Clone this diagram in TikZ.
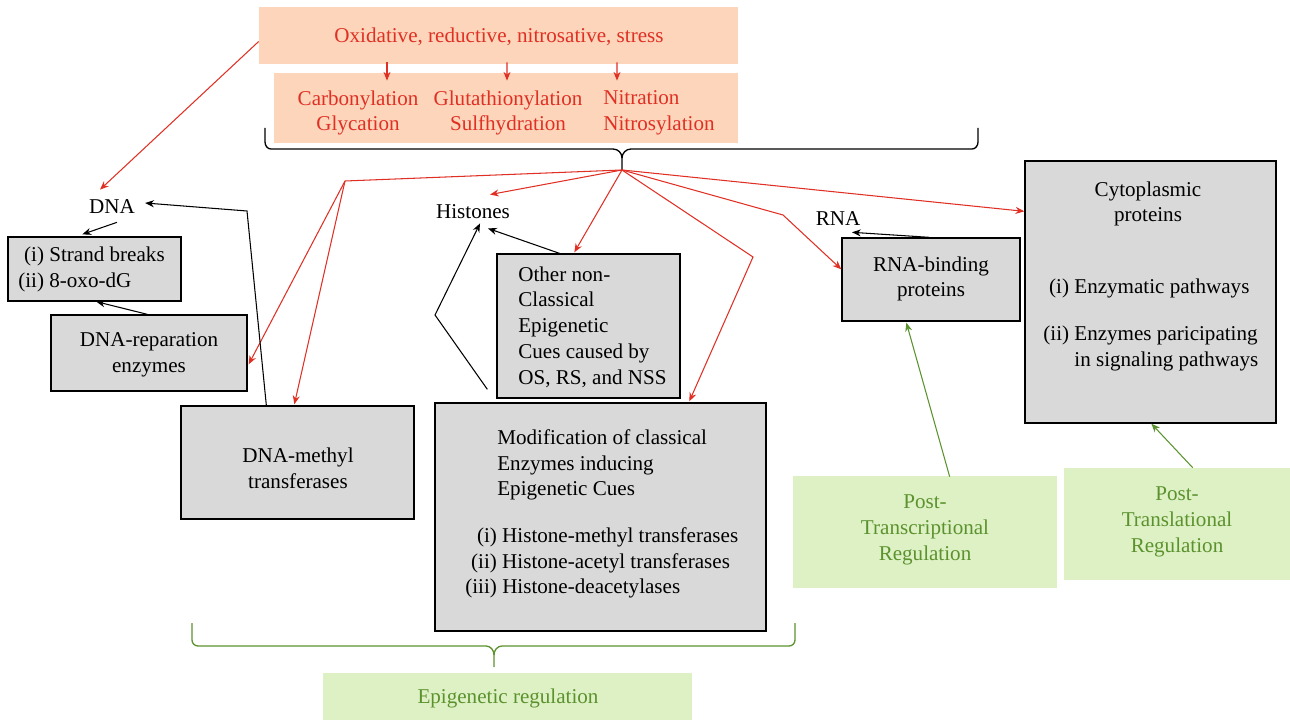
\documentclass[tikz,border=0pt]{standalone}
\usepackage{fontspec}
\setmainfont{Liberation Serif}
\usetikzlibrary{arrows.meta,calc,fit}
\definecolor{peach}{RGB}{252,213,186}
\definecolor{redtext}{RGB}{224,48,36}
\definecolor{boxgray}{RGB}{217,217,217}
\definecolor{greenfill}{RGB}{221,241,196}
\definecolor{greentext}{RGB}{92,146,46}
\begin{document}
\begin{tikzpicture}[x=0.02cm,y=-0.02cm,>={Stealth[length=5pt,width=4pt]},
		font=\fontsize{12}{14.7}\selectfont,
		gray box/.style={draw=black,line width=0.75pt,fill=boxgray,inner sep=0pt},
		green box/.style={fill=greenfill,inner sep=0pt},
		red box/.style={fill=peach,inner sep=0pt},
		word/.style={inner sep=0pt},
		green word/.style={inner sep=0pt,text=greentext,align=center},
		red word/.style={inner sep=0pt,text=redtext},
		red arrow/.style={->,draw=redtext,line width=0.6pt},
		black arrow/.style={->,draw=black,line width=0.6pt},
		green arrow/.style={->,draw=greentext,line width=0.6pt}]
		
		\useasboundingbox (0,0) rectangle (1290,722);
		
		% stress and its modifications
		\node[red box,fit={(259,7) (738,64)}](stress){};
		\node[red word](stresstxt) at (499,37){Oxidative, reductive, nitrosative, stress};
		\node[red box,fit={(274,73) (738,143)}](mods){};
		\node[red word,align=center](carb) at (358,113){Carbonylation\\Glycation};
		\node[red word,align=center](glut) at (508,113){Glutathionylation\\Sulfhydration};
		\node[red word,align=left,anchor=west](nitr) at (603,113){Nitration\\Nitrosylation};
		
		% targets
		\node[word](dna) at (112,207){DNA};
		\node[word](hist) at (473,212){Histones};
		\node[word](rna) at (838,219){RNA};
		
		\node[gray box,fit={(8,237) (181,301)}](strand){};
		\node[word,anchor=west](strandtxt) at (18,269){\begin{tabular}{@{}r@{ }l@{}}(i)&Strand breaks\\(ii)&8-oxo-dG\end{tabular}};
		\node[gray box,fit={(51,315) (247,391)}](repar){};
		\node[word,align=center](repartxt) at (149,355){DNA-reparation\\enzymes};
		\node[gray box,fit={(181,406) (414,519)}](methyl){};
		\node[word,align=center](methyltxt) at (298,468){DNA-methyl\\transferases};
		
		\node[gray box,fit={(497,254) (680,398)}](other){};
		\node[word,anchor=west,align=left](othertxt) at (518,327){Other non-\\Classical\\Epigenetic\\Cues caused by\\OS, RS, and NSS};
		\node[gray box,fit={(435,403) (766,631)}](modif){};
		\node[word,anchor=west,align=left](modtxt) at (497,465){Modification of classical\\Enzymes inducing\\Epigenetic Cues};
		\node[word,anchor=west](modlist) at (465,563){\begin{tabular}{@{}r@{ }l@{}}(i)&Histone-methyl transferases\\(ii)&Histone-acetyl transferases\\(iii)&Histone-deacetylases\end{tabular}};
		
		\node[gray box,fit={(842,238) (1020,321)}](rnab){};
		\node[word,align=center](rnabtxt) at (931,279){RNA-binding\\proteins};
		\node[gray box,fit={(1025,161) (1276,423)}](cyto){};
		\node[word,align=center](cytotxt) at (1148,204){Cytoplasmic\\proteins};
		\node[word,anchor=west](cytolist) at (1043,325){\begin{tabular}{@{}r@{ }l@{}}(i)&Enzymatic pathways\\[12pt](ii)&Enzymes paricipating\\&in signaling pathways\end{tabular}};
		
		% regulation
		\node[green box,fit={(793,476) (1057,588)}](ptrans){};
		\node[green word](ptranstxt) at (925,530){Post-\\Transcriptional\\Regulation};
		\node[green box,fit={(1064,468) (1290,580)}](ptransl){};
		\node[green word](ptransltxt) at (1177,522){Post-\\Translational\\Regulation};
		\node[green box,fit={(323,673) (692,720)}](epi){};
		\node[green word](epitxt) at (508,698){Epigenetic regulation};
		
		% braces
		\coordinate (hub) at (622,170);
		\coordinate (etip) at (494,667);
		\draw[line width=0.75pt] (265,128) -- (265,142) to[out=-90,in=180] (271,149) -- (613,149) to[out=0,in=90] (622,158) -- (hub);
		\draw[line width=0.75pt] (622,158) to[out=90,in=180] (631,149) -- (972,149) to[out=0,in=-90] (978,142) -- (978,128);
		\draw[draw=greentext,line width=0.75pt] (192,623) -- (192,640) to[out=-90,in=180] (198,646) -- (486,646) to[out=0,in=90] (494,655) -- (etip);
		\draw[draw=greentext,line width=0.75pt] (494,655) to[out=90,in=180] (502,646) -- (789,646) to[out=0,in=-90] (795,640) -- (795,623);
		
		% red connectors
		\coordinate (lhub) at (345,181);
		\coordinate (mbend) at (753,257);
		\coordinate (rbend) at (783,215);
		\draw[red arrow] ($(stress.west)+(0,6)$) -- ($(dna.north)+(-12,-10)$);
		\draw[red arrow] ($(stress.south)+(-111.5,-2)$) -- ($(mods.north)+(-119,8)$);
		\draw[red arrow] ($(stress.south)+(8.5,-2)$) -- ($(mods.north)+(1,8)$);
		\draw[red arrow] ($(stress.south)+(118.5,-2)$) -- ($(mods.north)+(111,8)$);
		\draw[draw=redtext,line width=0.6pt] (hub) -- (lhub);
		\draw[red arrow] (lhub) -- ($(repar.north east)+(1,50)$);
		\draw[red arrow] (lhub) -- ($(methyl.north west)+(114,-1)$);
		\draw[red arrow] (hub) -- ($(hist.north)+(17,-10)$);
		\draw[red arrow] (hub) -- ($(other.north west)+(78,-1)$);
		\draw[red arrow] (hub) -- (mbend) -- ($(modif.north west)+(255,-1)$);
		\draw[red arrow] (hub) -- (rbend) -- ($(rnab.north west)+(0,32)$);
		\draw[red arrow] (hub) -- ($(cyto.north west)+(0,51)$);
		
		% black connectors
		\draw[black arrow] ($(methyl.north west)+(86,0)$) -- (247,211) -- ($(dna.east)+(10,-4)$);
		\draw[black arrow] ($(dna.south)+(5,8)$) -- ($(strand.north west)+(75,-2)$);
		\draw[black arrow] ($(repar.north west)+(97,0)$) -- ($(strand.south west)+(89,0)$);
		\draw[black arrow] ($(modif.north west)+(53,-13)$) -- (435,315) -- ($(hist.south)+(7,4)$);
		\draw[black arrow] ($(other.north west)+(66,1)$) -- ($(hist.south)+(15,9)$);
		\draw[black arrow] ($(rnab.north west)+(88,0)$) -- ($(rna.south)+(14,6)$);
		
		% green connectors
		\draw[green arrow] ($(ptrans.north west)+(157,1)$) -- ($(rnab.south west)+(65,1)$);
		\draw[green arrow] ($(ptransl.north west)+(129,0)$) -- ($(cyto.south west)+(127,0)$);
		
	\end{tikzpicture}
\end{document}
